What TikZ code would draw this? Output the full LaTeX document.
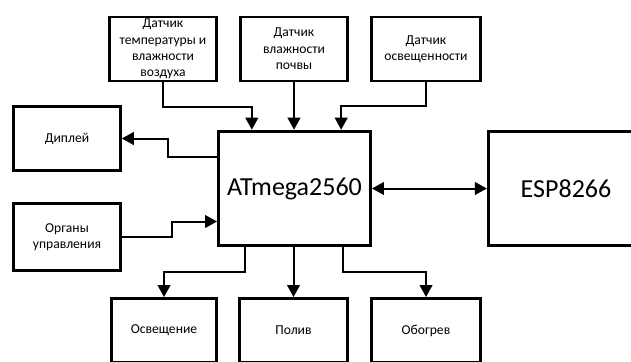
\documentclass[tikz,border=0pt]{standalone}
\usepackage{fontspec}
\setmainfont{Carlito}
\usetikzlibrary{arrows.meta}
\begin{document}
\begin{tikzpicture}[x=0.75pt,y=-0.75pt,>={Triangle[width=9.5pt,length=9pt]}]
	\tikzstyle{block}=[draw,line width=2.2pt,fill=white,align=center,inner xsep=2pt,inner ysep=0pt,minimum height=48pt,font=\fontsize{10.2}{12.3}\selectfont]
	\tikzstyle{bigblock}=[block,minimum height=86pt,font=\fontsize{19.5}{23}\selectfont]
	\tikzstyle{link}=[line width=1.5pt]
	\useasboundingbox (0,0) rectangle (631,361);
	
	\node[block,minimum width=80pt](temp) at (163,49){Датчик\\температуры и\\влажности\\воздуха};
	\node[block,minimum width=80pt](soil) at (294,49){Датчик\\влажности\\почвы};
	\node[block,minimum width=82pt](light) at (426,49){Датчик\\освещенности};
	
	\node[block,minimum width=80pt](disp) at (67,138.5){Диплей};
	\node[block,minimum width=80pt,minimum height=50.5pt](ctrl) at (67,237){Органы\\управления};
	
	\node[bigblock,minimum width=114pt](mcu) at (294.5,188.5){ATmega2560};
	\node[bigblock,minimum width=116.5pt](esp) at (566,188.5){ESP8266};
	
	\node[block,minimum width=79pt](lamp) at (164,330.5){Освещение};
	\node[block,minimum width=81pt](water) at (293.5,330.5){Полив};
	\node[block,minimum width=82pt](heat) at (426,330.5){Обогрев};
	
	\draw[link,->] (temp.south) -- ++(0,25) -| ([xshift=-32pt]mcu.north);
	\draw[link,->] (soil.south) -- (soil.south |- mcu.north);
	\draw[link,->] (light.south) -- ++(0,24) -| ([xshift=35pt]mcu.north);
	
	\draw[link,->] ([shift={(0,-32)}]mcu.west) -- ++(-49,0) |- (disp.east);
	\draw[link,->] (ctrl.east) -- ++(50,0) |- ([shift={(0,33)}]mcu.west);
	
	\draw[link,<->] (mcu.east) -- (esp.west);
	
	\draw[link,->] ([xshift=-37pt]mcu.south) -- ++(0,25) -| (lamp.north);
	\draw[link,->] (mcu.south -| water.north) -- (water.north);
	\draw[link,->] ([xshift=36pt]mcu.south) -- ++(0,25) -| (heat.north);
\end{tikzpicture}
\end{document}
